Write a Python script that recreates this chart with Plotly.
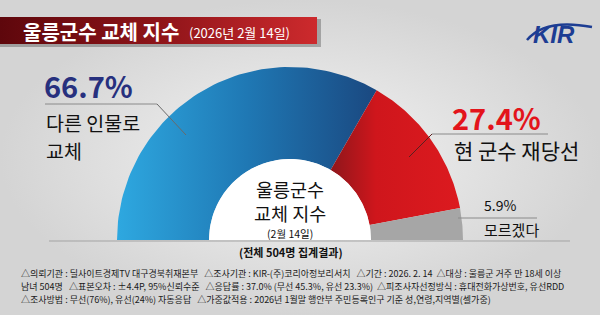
import numpy as np
import plotly.graph_objects as go

# ---- data ----
categories = ["다른 인물로 교체", "현 군수 재당선", "모르겠다"]
values = [66.7, 27.4, 5.9]
pct_labels = [f"{v}%" for v in values]
title_main = "울릉군수 교체 지수"
title_date = "(2026년 2월 14일)"
center_lines = ["울릉군수", "교체 지수", "(2월 14일)"]
sample_note = "(전체 504명 집계결과)"
NB = "\u00a0"
footnotes = [
    f"△의뢰기관 : 딜사이트경제TV 대구경북취재본부{NB*3}△조사기관 : KIR-(주)코리아정보리서치{NB*3}△기간 : 2026. 2. 14{NB*2}△대상 : 울릉군 거주 만 18세 이상",
    f"남녀 504명{NB*3}△표본오차 : ±4.4P, 95%신뢰수준{NB*3}△응답률 : 37.0% (무선 45.3%, 유선 23.3%){NB*2}△피조사자선정방식 : 휴대전화가상번호, 유선RDD",
    f"△조사방법 : 무선(76%), 유선(24%) 자동응답{NB*3}△가중값적용 : 2026년 1월말 행안부 주민등록인구 기준 성,연령,지역별(셀가중)",
]

# ---- styles ----
W, H = 600, 315
CX, CY = 290, 240
R_OUT, R_IN = 173, 81
slice_scales = [
    [[0, "#2ea8e0"], [0.5, "#1f78b4"], [1, "#1a4880"]],
    [[0, "#8e161b"], [0.35, "#cf161c"], [1, "#dc1a1f"]],
    [[0, "#a6a6a6"], [1, "#a6a6a6"]],
]
FONT = "Noto Sans CJK KR"

fig = go.Figure()

# background
fig.add_trace(go.Scatter(
    x=[0, W, W, 0, 0], y=[0, 0, H, H, 0], mode="lines", line=dict(width=0),
    fill="toself", fillgradient=dict(type="radial", colorscale=[[0, "#f4f4f4"], [1, "#d4d4d4"]]),
    hoverinfo="skip", showlegend=False))

# title bar shadow + bar
fig.add_trace(go.Scatter(
    x=[0, 321, 321, 0, 0], y=[19, 19, 47, 47, 19], mode="lines", line=dict(width=0),
    fill="toself", fillcolor="rgba(60,60,60,0.35)", hoverinfo="skip", showlegend=False))
fig.add_trace(go.Scatter(
    x=[0, 317, 317, 0, 0], y=[17, 17, 44, 44, 17], mode="lines", line=dict(width=0),
    fill="toself", fillgradient=dict(type="horizontal", colorscale=[[0, "#5e070c"], [0.5, "#8e1419"], [1, "#cd2a2d"]]),
    hoverinfo="skip", showlegend=False))

# half donut slices from data
total = sum(values)
start = 180.0
for cat, v, cs in zip(categories, values, slice_scales):
    end = start - 180.0 * v / total
    th = np.radians(np.linspace(start, end, 80))
    xo = CX + R_OUT * np.cos(th)
    yo = CY - R_OUT * np.sin(th)
    xi = CX + R_IN * np.cos(th[::-1])
    yi = CY - R_IN * np.sin(th[::-1])
    xs = np.concatenate([xo, xi, xo[:1]])
    ys = np.concatenate([yo, yi, yo[:1]])
    fig.add_trace(go.Scatter(
        x=xs, y=ys, mode="lines", line=dict(width=0), fill="toself",
        fillgradient=dict(type="horizontal", colorscale=cs),
        name=cat, hoverinfo="name", showlegend=False))
    start = end

# white hole
th = np.radians(np.linspace(180, 0, 100))
fig.add_trace(go.Scatter(
    x=np.concatenate([CX + R_IN * np.cos(th), [CX - R_IN]]),
    y=np.concatenate([CY - R_IN * np.sin(th), [CY]]),
    mode="lines", line=dict(width=0), fill="toself", fillcolor="#ffffff",
    hoverinfo="skip", showlegend=False))

shapes = [
    dict(type="line", x0=49, x1=570, y0=241, y1=241, line=dict(color="#a3a3a3", width=1)),
    dict(type="line", x0=45, x1=157, y0=104, y1=104, line=dict(color="#8a8a8a", width=1)),
    dict(type="line", x0=157, x1=186, y0=104, y1=135, line=dict(color="#6a6a6a", width=1)),
    dict(type="line", x0=432, x1=548, y0=134, y1=134, line=dict(color="#8a8a8a", width=1)),
    dict(type="line", x0=432, x1=409, y0=134, y1=157, line=dict(color="#5a2020", width=1)),
    dict(type="line", x0=458, x1=537, y0=218, y1=218, line=dict(color="#8a8a8a", width=1)),
    dict(type="path", path="M 527 40 Q 545 18 592 27", line=dict(color="#1d3d93", width=2.5)),
]

ann = []
def A(text, x, y, size, color="#111111", xanchor="left", bold=False, family=FONT, italic=False, align="left"):
    t = f"<b>{text}</b>" if bold else text
    if italic:
        t = f"<i>{t}</i>"
    ann.append(dict(text=t, x=x, y=y, xref="x", yref="y", xanchor=xanchor, yanchor="middle",
                    align=align, showarrow=False, font=dict(family=family, size=size, color=color)))

A(title_main, 21, 31, 20, "#ffffff", bold=True)
A(title_date, 187, 32, 13, "#ffffff")
A("KIR", 531, 34, 24, "#1d3d93", bold=True, family="Liberation Sans", italic=True)

A(pct_labels[0], 42, 85, 29, "#27307e", bold=True)
A("다른 인물로", 44, 122.5, 19.5)
A("교체", 44, 150.5, 19.5)
A(pct_labels[1], 450, 117, 29, "#e3141b", bold=True)
A("현 군수 재당선", 452, 150, 21)
A(pct_labels[2], 482, 205, 14)
A("모르겠다", 482, 229, 15)

A(center_lines[0] + "<br>" + center_lines[1], CX, 201, 18.5, xanchor="center", align="center")
A(center_lines[2], CX, 233.5, 10.5, xanchor="center")
A(sample_note, 291, 252, 11, bold=True, xanchor="center")

for i, line in enumerate(footnotes):
    A(line, 19, 273 + 13 * i, 9.0, "#1a1a1a")

fig.update_layout(
    width=W, height=H, margin=dict(l=0, r=0, t=0, b=0),
    paper_bgcolor="#e2e2e2", plot_bgcolor="#e2e2e2",
    xaxis=dict(range=[0, W], visible=False, fixedrange=True),
    yaxis=dict(range=[H, 0], visible=False, fixedrange=True),
    shapes=shapes, annotations=ann, showlegend=False,
)
fig.write_html("out.html")
